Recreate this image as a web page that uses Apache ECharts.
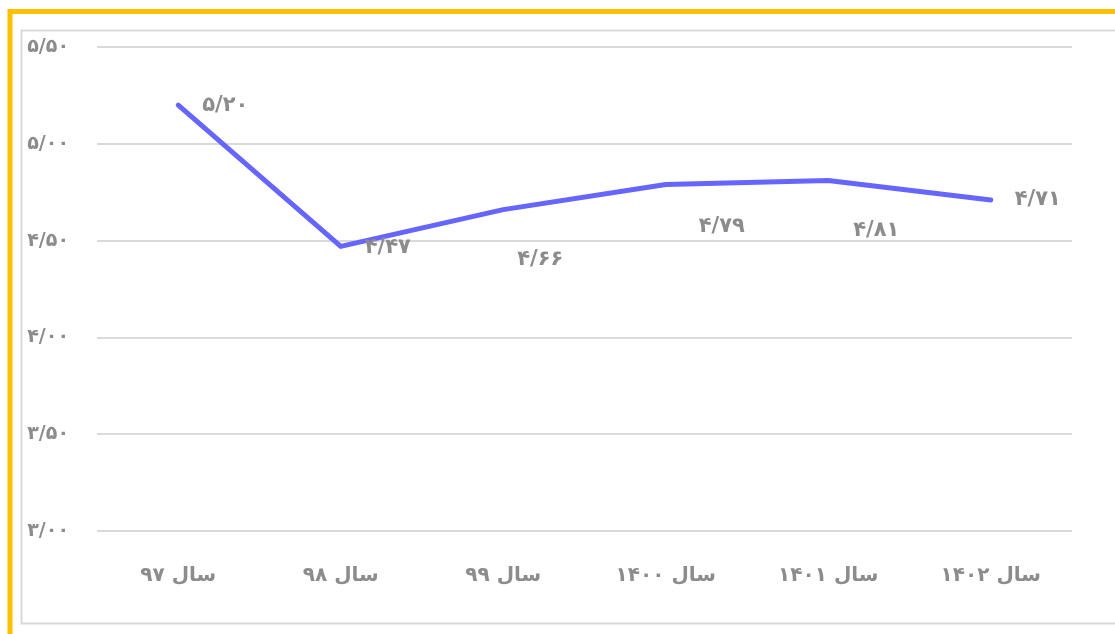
<!DOCTYPE html>
<html>
<head>
<meta charset="utf-8">
<script src="https://cdn.jsdelivr.net/npm/echarts@6/dist/echarts.min.js"></script>
<style>
  html, body { margin: 0; padding: 0; background: #fff; }
  #chart { width: 1115px; height: 634px; }
</style>
</head>
<body>
<div id="chart"></div>
<script>
var categories = ['سال ۹۷', 'سال ۹۸', 'سال ۹۹', 'سال ۱۴۰۰', 'سال ۱۴۰۱', 'سال ۱۴۰۲'];
var values = [5.20, 4.47, 4.66, 4.79, 4.81, 4.71];
var yMin = 3.0, yMax = 5.5, yStep = 0.5;

// label offsets (excel put them in odd spots)
var labelOffsets = [[47, 0], [47, 1], [37, 50], [56, 42], [48, 50], [47, 0]];

function toFa(str) {
  return String(str).replace(/[0-9]/g, function (d) {
    return '۰۱۲۳۴۵۶۷۸۹'[+d];
  }).replace('.', '/');
}

var font = 'DejaVu Sans';
var gray = '#8c8c8c';

var chart = echarts.init(document.getElementById('chart'));
chart.setOption({
  animation: false,
  backgroundColor: '#fff',
  graphic: [
    { type: 'rect', shape: { x: 10, y: 11.5, width: 1300, height: 800 },
      style: { fill: 'none', stroke: '#FFC000', lineWidth: 5 }, z: 100 },
    { type: 'rect', shape: { x: 21.5, y: 30.5, width: 1300, height: 593 },
      style: { fill: 'none', stroke: '#d9d9d9', lineWidth: 2 }, z: 100 }
  ],
  grid: { left: 97, right: 43, top: 47, bottom: 103 },
  xAxis: {
    type: 'category',
    data: categories,
    boundaryGap: true,
    axisLine: { show: false },
    axisTick: { show: false },
    axisLabel: { color: gray, fontSize: 20, fontWeight: 'bold', fontFamily: font, margin: 35 }
  },
  yAxis: {
    type: 'value',
    min: yMin,
    max: yMax,
    interval: yStep,
    axisLine: { show: false },
    axisTick: { show: false },
    splitLine: { lineStyle: { color: '#d9d9d9', width: 2 } },
    axisLabel: {
      color: gray, fontSize: 19, fontWeight: 'bold', fontFamily: font, margin: 28,
      formatter: function (v) { return toFa(v.toFixed(2)); }
    }
  },
  series: [{
    type: 'line',
    data: values.map(function (v, i) {
      return {
        value: v,
        label: { offset: labelOffsets[i] }
      };
    }),
    symbol: 'circle',
    symbolSize: 1,
    itemStyle: { color: 'rgba(0,0,0,0)' },
    lineStyle: { color: '#6666ff', width: 5, cap: 'round', join: 'round' },
    label: {
      show: true,
      position: 'inside',
      color: gray,
      fontSize: 21,
      fontWeight: 'bold',
      fontFamily: font,
      formatter: function (p) { return toFa(p.value.toFixed(2)); }
    }
  }]
});
</script>
</body>
</html>
